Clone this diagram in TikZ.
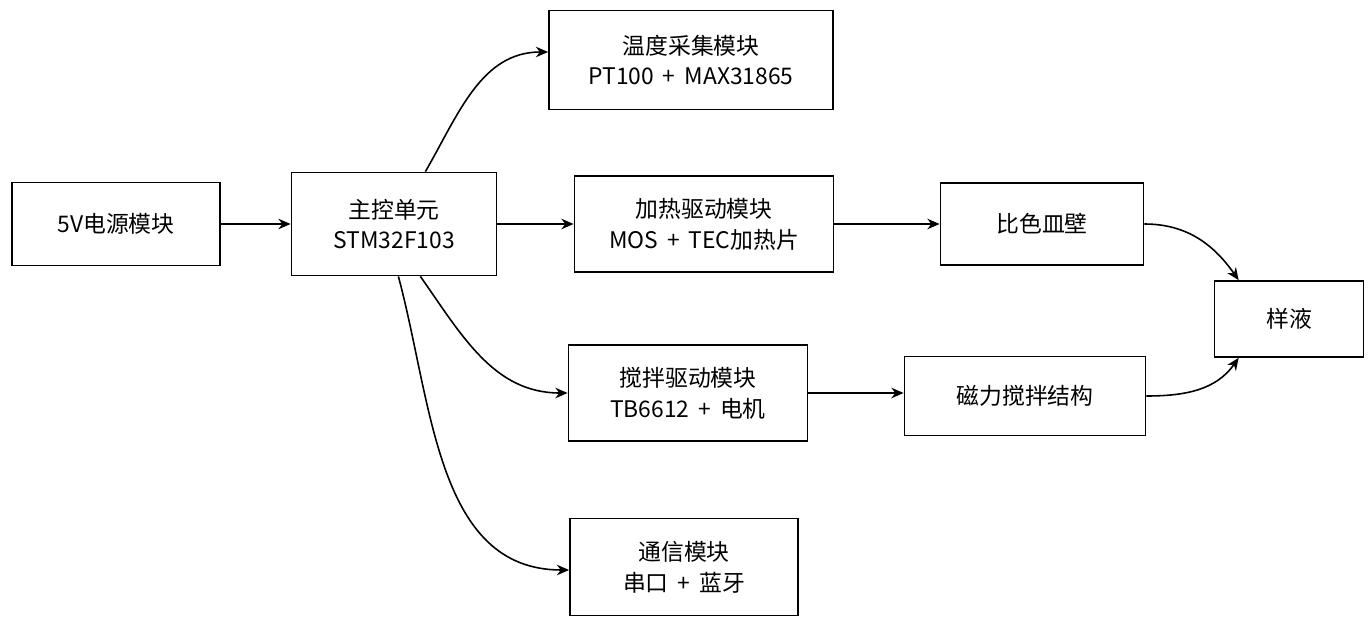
\documentclass[tikz,border=0pt]{standalone}
\usepackage{fontspec}
\setmainfont{Noto Sans CJK SC}
\usetikzlibrary{arrows.meta,positioning}

\begin{document}
\begin{tikzpicture}[
    x=0.02cm, y=-0.02cm,
    box/.style={rectangle, draw, line width=1pt, align=center, font=\fontsize{13}{17.5}\selectfont, inner sep=0pt},
    arrow/.style={-{Stealth[length=7pt,width=6pt]}, line width=0.9pt}
]
\useasboundingbox (0,0) rectangle (1368,635);
% modules
\node[box, minimum width=208*0.02cm, minimum height=83*0.02cm] (power) at (116,224) {5V电源模块};
\node[box, minimum width=205*0.02cm, minimum height=103*0.02cm] (mcu) at (394,224) {主控单元\\STM32F103};
\node[box, minimum width=284*0.02cm, minimum height=99*0.02cm] (temp) at (691,60) {温度采集模块\\PT100 \,+\, MAX31865};
\node[box, minimum width=259*0.02cm, minimum height=96*0.02cm] (heat) at (704,224) {加热驱动模块\\MOS \,+\, TEC加热片};
\node[box, minimum width=239*0.02cm, minimum height=96*0.02cm] (stir) at (688,393) {搅拌驱动模块\\TB6612 \,+\, 电机};
\node[box, minimum width=228*0.02cm, minimum height=97*0.02cm] (comm) at (684,567) {通信模块\\串口 \,+\, 蓝牙};
\node[box, minimum width=203*0.02cm, minimum height=82*0.02cm] (wall) at (1042,224) {比色皿壁};
\node[box, minimum width=241*0.02cm, minimum height=79*0.02cm] (magnet) at (1025,396) {磁力搅拌结构};
\node[box, minimum width=149*0.02cm, minimum height=76*0.02cm] (sample) at (1289,319) {样液};

% connections
\draw[arrow] (power) -- (mcu);
\draw[arrow] (mcu.north east) ++(-72,0) to[out=60,in=180] (temp.west |- 0,52);
\draw[arrow] (mcu) -- (heat);
\draw[arrow] (mcu.south east) ++(-77,0) to[out=-55,in=180] (stir.west |- 0,393);
\draw[arrow] (mcu.south east) ++(-99,0) to[out=-75,in=180] (comm.west |- 0,570);
\draw[arrow] (heat) -- (wall);
\draw[arrow] (stir.east) -- (magnet.west |- stir.east);
\draw[arrow] (wall.east) to[out=0,in=125] ([xshift=25*0.02cm]sample.north west);
\draw[arrow] (magnet.east) to[out=0,in=-125] ([xshift=25*0.02cm]sample.south west);
\end{tikzpicture}
\end{document}
